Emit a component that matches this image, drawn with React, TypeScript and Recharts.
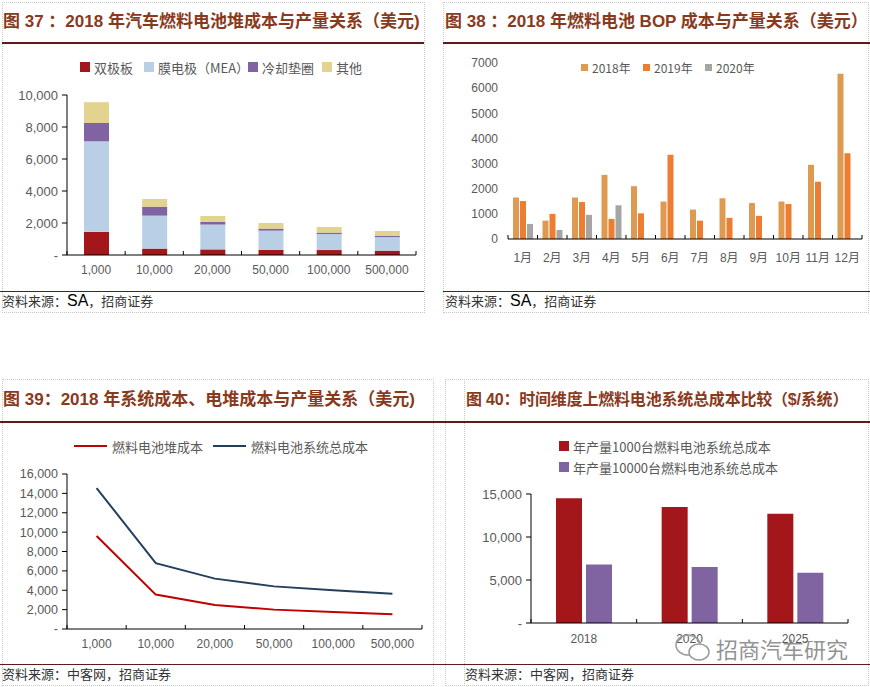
import React from 'react';
import { BarChart, Bar, LineChart, Line, XAxis, YAxis } from 'recharts';

// 图37: stack cost by annual volume
const volumeLabels = ['1,000', '10,000', '20,000', '50,000', '100,000', '500,000'];
const bipolarPlate = [1450, 400, 350, 320, 310, 270];
const meaCost = [5650, 2060, 1550, 1200, 1000, 850];
const coolingGasket = [1150, 560, 180, 130, 90, 70];
const otherCost = [1300, 480, 360, 350, 350, 310];

// 图38: BOP cost per month
const months = ['1月', '2月', '3月', '4月', '5月', '6月', '7月', '8月', '9月', '10月', '11月', '12月'];
const bop2018 = [1650, 730, 1650, 2550, 2100, 1490, 1170, 1620, 1430, 1490, 2950, 6570];
const bop2019 = [1510, 1000, 1470, 800, 1020, 3350, 730, 840, 920, 1390, 2280, 3410];
const bop2020 = [600, 360, 960, 1340, null, null, null, null, null, null, null, null];

// 图39: stack vs system cost
const stackCost = [9600, 3550, 2480, 2000, 1750, 1530];
const systemCost = [14550, 6800, 5200, 4400, 4000, 3650];

// 图40: system cost over time
const years = ['2018', '2020', '2025'];
const sys1000 = [14500, 13500, 12700];
const sys10000 = [6800, 6500, 5850];

const stackData = volumeLabels.map((v, i) => ({
  volume: v,
  plate: bipolarPlate[i],
  mea: meaCost[i],
  cooling: coolingGasket[i],
  other: otherCost[i],
}));
const bopData = months.map((m, i) => ({ month: m, y2018: bop2018[i], y2019: bop2019[i], y2020: bop2020[i] }));
const costData = volumeLabels.map((v, i) => ({ volume: v, stack: stackCost[i], system: systemCost[i] }));
const yearData = years.map((y, i) => ({ year: y, a: sys1000[i], b: sys10000[i] }));

const LATIN = '"Liberation Sans", Arial, "Noto Sans CJK SC", sans-serif';
const CJK = '"Noto Sans CJK SC", sans-serif';
const TICK_GRAY = '#595959';
const TITLE_COLOR = '#8A3A1C';
const RULE_COLOR = '#5E1B1B';

const dash = (v: number) => (v === 0 ? '-' : v.toLocaleString('en-US'));

// category tick: label + small inward marks on band boundaries
const CatTick = (props: any) => {
  const { x, y, payload, index, band, dy, size = 12 } = props;
  const half = band / 2;
  return (
    <g>
      {index === 0 && <line x1={x - half} x2={x - half} y1={y} y2={y - 4} stroke="#000" />}
      <line x1={x + half} x2={x + half} y1={y} y2={y - 4} stroke="#000" />
      <text x={x} y={y + dy} textAnchor="middle" fill={TICK_GRAY} fontSize={size} fontFamily={LATIN}>
        {payload.value}
      </text>
    </g>
  );
};

function Title({ x, y, w, text, size = 17, spacing = 0 }: { x: number; y: number; w: number; text: string; size?: number; spacing?: number }) {
  return (
    <div
      style={{
        position: 'absolute', left: x, top: y - 12, width: w, height: 24, lineHeight: '24px',
        fontFamily: LATIN, fontWeight: 700, fontSize: size, letterSpacing: spacing,
        color: TITLE_COLOR, whiteSpace: 'nowrap',
      }}
    >
      {text}
    </div>
  );
}

function Rule({ x, y, w, h = 2 }: { x: number; y: number; w: number; h?: number }) {
  return <div style={{ position: 'absolute', left: x, top: y, width: w, height: h, background: RULE_COLOR }} />;
}

function Source({ x, y, children }: { x: number; y: number; children: React.ReactNode }) {
  return (
    <div
      style={{
        position: 'absolute', left: x, top: y - 10, height: 20, lineHeight: '20px',
        fontFamily: CJK, fontSize: 13, color: '#333', whiteSpace: 'nowrap',
      }}
    >
      {children}
    </div>
  );
}

function Box({ x, y, w, h }: { x: number; y: number; w: number; h: number }) {
  return (
    <div style={{ position: 'absolute', left: x, top: y, width: w, height: h, border: '1px dotted #c8c8c8', boxSizing: 'border-box' }} />
  );
}

function SquareKey({ x, y, color, label, size = 10, font = 13 }: any) {
  return (
    <div style={{ position: 'absolute', left: x, top: y - 10, height: 20, display: 'flex', alignItems: 'center', whiteSpace: 'nowrap' }}>
      <span style={{ width: size, height: size, background: color, display: 'inline-block', marginRight: 4 }} />
      <span style={{ fontFamily: CJK, fontSize: font, color: TICK_GRAY }}>{label}</span>
    </div>
  );
}

function LineKey({ x, y, color, label }: any) {
  return (
    <div style={{ position: 'absolute', left: x, top: y - 10, height: 20, display: 'flex', alignItems: 'center', whiteSpace: 'nowrap' }}>
      <span style={{ width: 33, height: 2, background: color, display: 'inline-block', marginRight: 5 }} />
      <span style={{ fontFamily: CJK, fontSize: 13, color: TICK_GRAY }}>{label}</span>
    </div>
  );
}

const yTick = { fill: TICK_GRAY, fontSize: 13, fontFamily: LATIN };

export default function App() {
  const band37 = (425 - 67 - 9) / 6;
  const band38 = (435 - 73 - 8) / 12;
  const band39 = (435 - 67 - 13) / 6;
  const band40 = (435 - 96 - 22) / 3;

  return (
    <div style={{ position: 'absolute', left: 0, top: 0, width: 870, height: 687, background: '#fff', overflow: 'hidden' }}>
      {/* panel frames */}
      <Box x={2} y={2} w={423} h={311} />
      <Box x={443} y={2} w={426} h={311} />
      <Box x={2} y={379} w={432} h={307} />
      <Box x={445} y={379} w={20} h={307} />
      <Box x={464} y={379} w={405} h={307} />

      {/* 图37 */}
      <Title x={3} y={22} w={425} text="图 37 ：2018 年汽车燃料电池堆成本与产量关系（美元)" />
      <Rule x={2} y={42} w={422} />
      <SquareKey x={80} y={67} color="#A3161A" label="双极板" />
      <SquareKey x={144} y={67} color="#B8CFE6" label="膜电极（MEA）" />
      <SquareKey x={248} y={67} color="#8064A2" label="冷却垫圈" />
      <SquareKey x={322} y={67} color="#E2D38F" label="其他" />
      <div style={{ position: 'absolute', left: 0, top: 50 }}>
        <BarChart width={425} height={235} data={stackData} margin={{ top: 45, right: 9, bottom: 0, left: 0 }} barSize={25}>
          <XAxis
            dataKey="volume"
            height={30}
            axisLine={{ stroke: '#000' }}
            tickLine={false}
            tickSize={0}
            tickMargin={0}
            interval={0}
            tick={(p: any) => <CatTick {...p} band={band37} dy={19} />}
          />
          <YAxis
            width={67}
            domain={[0, 10000]}
            ticks={[0, 2000, 4000, 6000, 8000, 10000]}
            interval={0}
            tickFormatter={dash}
            axisLine={{ stroke: '#000' }}
            tickLine={{ stroke: '#000' }}
            tickSize={5}
            tickMargin={4}
            tick={yTick}
          />
          <Bar dataKey="plate" stackId="s" fill="#A3161A" isAnimationActive={false} />
          <Bar dataKey="mea" stackId="s" fill="#B8CFE6" isAnimationActive={false} />
          <Bar dataKey="cooling" stackId="s" fill="#8064A2" isAnimationActive={false} />
          <Bar dataKey="other" stackId="s" fill="#E2D38F" isAnimationActive={false} />
        </BarChart>
      </div>
      <Rule x={0} y={291} w={424} h={1} />
      <Source x={2} y={301}>
        资料来源：<span style={{ fontFamily: LATIN, fontSize: 16, color: '#000' }}>SA</span>，招商证券
      </Source>

      {/* 图38 */}
      <Title x={445} y={22} w={425} text="图 38 ：2018 年燃料电池 BOP 成本与产量关系（美元）" />
      <Rule x={443} y={42} w={427} />
      <SquareKey x={581} y={67} color="#DE9A50" label="2018年" size={7} font={12} />
      <SquareKey x={643} y={67} color="#ED7D31" label="2019年" size={7} font={12} />
      <SquareKey x={705} y={67} color="#A5A5A5" label="2020年" size={7} font={12} />
      <div style={{ position: 'absolute', left: 435, top: 50 }}>
        <BarChart width={435} height={219} data={bopData} margin={{ top: 13, right: 8, bottom: 0, left: 0 }} barSize={6} barGap={1}>
          <XAxis
            dataKey="month"
            height={30}
            axisLine={{ stroke: '#000' }}
            tickLine={false}
            tickSize={0}
            tickMargin={0}
            interval={0}
            tick={(p: any) => <CatTick {...p} band={band38} dy={23} />}
          />
          <YAxis
            width={73}
            domain={[0, 7000]}
            ticks={[0, 1000, 2000, 3000, 4000, 5000, 6000, 7000]}
            interval={0}
            axisLine={false}
            tickLine={false}
            tickSize={0}
            tickMargin={10}
            tick={{ ...yTick, fontSize: 12 }}
          />
          <Bar dataKey="y2018" fill="#DE9A50" isAnimationActive={false} />
          <Bar dataKey="y2019" fill="#ED7D31" isAnimationActive={false} />
          <Bar dataKey="y2020" fill="#A5A5A5" isAnimationActive={false} />
        </BarChart>
      </div>
      <Rule x={443} y={291} w={427} h={1} />
      <Source x={445} y={301}>
        资料来源：<span style={{ fontFamily: LATIN, fontSize: 16, color: '#000' }}>SA</span>，招商证券
      </Source>

      {/* 图39 */}
      <Title x={3} y={400} w={432} text="图 39：2018 年系统成本、电堆成本与产量关系（美元)" />
      <Rule x={0} y={421} w={435} />
      <LineKey x={74} y={446} color="#C00000" label="燃料电池堆成本" />
      <LineKey x={213} y={446} color="#243F5C" label="燃料电池系统总成本" />
      <div style={{ position: 'absolute', left: 0, top: 460 }}>
        <LineChart width={435} height={199} data={costData} margin={{ top: 14, right: 13, bottom: 0, left: 0 }}>
          <XAxis
            dataKey="volume"
            scale="band"
            height={30}
            axisLine={{ stroke: '#000' }}
            tickLine={false}
            tickSize={0}
            tickMargin={0}
            interval={0}
            tick={(p: any) => <CatTick {...p} band={band39} dy={19} />}
          />
          <YAxis
            width={67}
            domain={[0, 16000]}
            ticks={[0, 2000, 4000, 6000, 8000, 10000, 12000, 14000, 16000]}
            interval={0}
            tickFormatter={dash}
            axisLine={{ stroke: '#000' }}
            tickLine={{ stroke: '#000' }}
            tickSize={5}
            tickMargin={4}
            tick={{ ...yTick, fontSize: 12.5 }}
          />
          <Line dataKey="stack" stroke="#C00000" strokeWidth={2} dot={false} isAnimationActive={false} />
          <Line dataKey="system" stroke="#243F5C" strokeWidth={2} dot={false} isAnimationActive={false} />
        </LineChart>
      </div>
      <Rule x={0} y={664} w={435} h={1} />
      <Source x={2} y={674}>资料来源：中客网，招商证券</Source>

      {/* 图40 */}
      <Title x={466} y={400} w={404} size={16} spacing={-0.2} text="图 40：时间维度上燃料电池系统总成本比较（$/系统）" />
      <Rule x={435} y={421} w={435} />
      <SquareKey x={559} y={446} color="#A3161A" label="年产量1000台燃料电池系统总成本" />
      <SquareKey x={559} y={467} color="#8064A2" label="年产量10000台燃料电池系统总成本" />
      <div style={{ position: 'absolute', left: 435, top: 480 }}>
        <BarChart width={435} height={173} data={yearData} margin={{ top: 14, right: 22, bottom: 0, left: 0 }} barSize={26} barGap={4}>
          <XAxis
            dataKey="year"
            height={30}
            axisLine={{ stroke: '#000' }}
            tickLine={false}
            tickSize={0}
            tickMargin={0}
            interval={0}
            tick={(p: any) => <CatTick {...p} band={band40} dy={20} />}
          />
          <YAxis
            width={96}
            domain={[0, 15000]}
            ticks={[0, 5000, 10000, 15000]}
            interval={0}
            tickFormatter={dash}
            axisLine={{ stroke: '#000' }}
            tickLine={{ stroke: '#000' }}
            tickSize={5}
            tickMargin={4}
            tick={yTick}
          />
          <Bar dataKey="a" fill="#A3161A" isAnimationActive={false} />
          <Bar dataKey="b" fill="#8064A2" isAnimationActive={false} />
        </BarChart>
      </div>
      {/* watermark */}
      <svg style={{ position: 'absolute', left: 674, top: 632 }} width={40} height={32}>
        <ellipse cx={14} cy={13} rx={12} ry={10} fill="none" stroke="#9a9a9a" strokeWidth={1.5} />
        <ellipse cx={25} cy={20} rx={10} ry={8} fill="#fff" stroke="#9a9a9a" strokeWidth={1.5} />
      </svg>
      <div
        style={{
          position: 'absolute', left: 716, top: 634, height: 28, lineHeight: '28px',
          fontFamily: CJK, fontSize: 22, color: 'rgba(110,110,110,0.75)', whiteSpace: 'nowrap',
        }}
      >
        招商汽车研究
      </div>
      <Rule x={435} y={664} w={435} h={1} />
      <Source x={465} y={674}>资料来源：中客网，招商证券</Source>
    </div>
  );
}
